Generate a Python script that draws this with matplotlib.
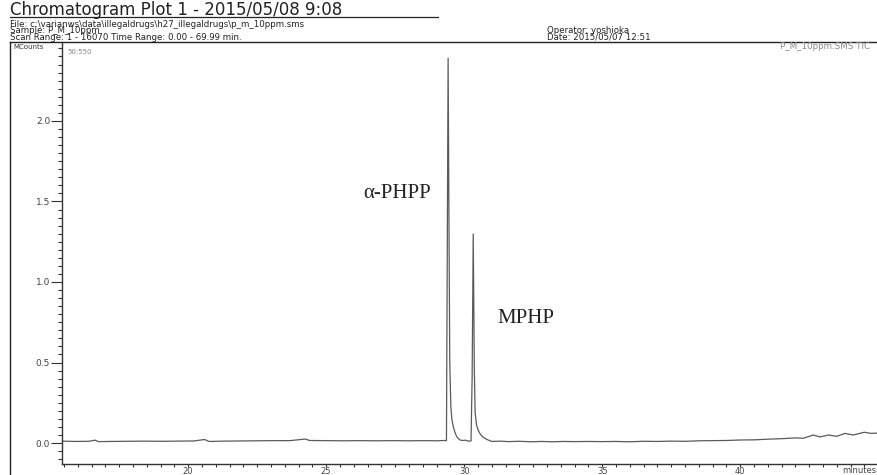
import numpy as np
import matplotlib
matplotlib.use("Agg")
import matplotlib.pyplot as plt
from matplotlib.lines import Line2D
from matplotlib.ticker import MultipleLocator, FormatStrFormatter

# TIC trace (minutes, MCounts)
time_min = [15.43, 15.9, 16.4, 16.63, 16.75, 17.2, 17.8, 18.4, 19.0, 19.6,
            20.2, 20.6, 20.75, 21.3, 21.9, 22.5, 23.1, 23.7, 24.24, 24.4,
            25.0, 25.6, 26.2, 26.8, 27.4, 28.0, 28.6, 29.0, 29.25, 29.36,
            29.39, 29.42, 29.45, 29.48, 29.52, 29.56, 29.61, 29.67, 29.73, 29.85,
            29.95, 30.05, 30.15, 30.25, 30.29, 30.33, 30.37, 30.40, 30.45, 30.51,
            30.57, 30.65, 30.75, 30.87, 31.0, 31.3, 31.6, 32.0, 32.4, 32.8,
            33.2, 33.6, 34.0, 34.5, 35.0, 35.5, 36.0, 36.5, 37.0, 37.5,
            38.0, 38.5, 39.0, 39.5, 40.0, 40.5, 41.0, 41.5, 42.0, 42.3,
            42.65, 42.9, 43.2, 43.5, 43.8, 44.1, 44.5, 44.75, 44.96]
mcounts = [0.012, 0.010, 0.011, 0.018, 0.009, 0.010, 0.011, 0.012, 0.011, 0.012,
           0.013, 0.022, 0.010, 0.012, 0.013, 0.014, 0.015, 0.015, 0.025, 0.016,
           0.015, 0.014, 0.015, 0.014, 0.015, 0.014, 0.015, 0.014, 0.016, 0.015,
           1.20, 2.389, 1.40, 0.50, 0.22, 0.143, 0.10, 0.065, 0.040, 0.019,
           0.016, 0.018, 0.012, 0.013, 0.40, 1.298, 0.45, 0.187, 0.112, 0.080,
           0.060, 0.042, 0.029, 0.019, 0.010, 0.012, 0.009, 0.011, 0.008, 0.010,
           0.008, 0.010, 0.009, 0.010, 0.009, 0.010, 0.008, 0.011, 0.010, 0.012,
           0.011, 0.014, 0.015, 0.016, 0.019, 0.020, 0.024, 0.027, 0.032, 0.030,
           0.050, 0.038, 0.050, 0.042, 0.060, 0.050, 0.067, 0.060, 0.062]

peak_names = ["α-PHPP", "MPHP"]
peak_label_pos = [(26.34, 1.547), (31.19, 0.774)]

header_title = "Chromatogram Plot 1 - 2015/05/08 9:08"
header_lines = ["File: c:\\varianws\\data\\illegaldrugs\\h27_illegaldrugs\\p_m_10ppm.sms",
                "Sample: P_M_10ppm",
                "Scan Range: 1 - 16070 Time Range: 0.00 - 69.99 min."]
header_right = ["Operator: yoshioka", "Date: 2015/05/07 12:51"]

W, H = 877, 475
fig = plt.figure(figsize=(W / 100, H / 100), dpi=100)
fig.patch.set_facecolor("white")

def fx(px):
    return px / W

def fy(py):
    return 1 - py / H

ax = fig.add_axes([fx(62), fy(464), fx(W - 62), fy(42) - fy(464)])
ax.plot(time_min, mcounts, color="#5a5a5a", lw=0.9)
ax.set_xlim(15.43, 44.96)
ax.set_ylim(-0.13, 2.49)

for s in ["top", "right"]:
    ax.spines[s].set_visible(False)
for s in ["left", "bottom"]:
    ax.spines[s].set_color("#333333")
    ax.spines[s].set_linewidth(1.0)

ax.xaxis.set_major_locator(MultipleLocator(5))
ax.xaxis.set_minor_locator(MultipleLocator(0.5))
ax.yaxis.set_major_locator(MultipleLocator(0.5))
ax.yaxis.set_minor_locator(MultipleLocator(0.05))
ax.yaxis.set_major_formatter(FormatStrFormatter("%.1f"))
ax.tick_params(axis="x", which="major", length=2.5, width=0.8, color="#333333",
               labelsize=6, labelcolor="#444444", pad=0)
ax.tick_params(axis="x", which="minor", length=2.5, width=0.8, color="#333333")
ax.tick_params(axis="y", which="major", length=8, width=0.8, color="#333333",
               labelsize=6.5, labelcolor="#444444", pad=0.5)
ax.tick_params(axis="y", which="minor", length=3, width=0.8, color="#333333")
ax.tick_params(axis="y", which="major", right=True)

for name, (tx, ty) in zip(peak_names, peak_label_pos):
    ax.text(tx, ty, name, family="Liberation Serif", fontsize=15, color="#222222",
            ha="left", va="center")

# report header
fig.text(fx(10), fy(15), header_title, fontsize=12, color="#222222",
         family="DejaVu Sans", ha="left", va="baseline")
fig.add_artist(Line2D([fx(10), fx(438)], [fy(17), fy(17)], color="#222222", lw=0.9))
fig.text(fx(10), fy(41.5), "\n".join(header_lines), fontsize=6.2, color="#222222",
         family="DejaVu Sans", ha="left", va="bottom", linespacing=0.64)
fig.text(fx(547), fy(41.5), "\n".join(header_right), fontsize=6.2, color="#222222",
         family="DejaVu Sans", ha="left", va="bottom", linespacing=0.64)
fig.add_artist(Line2D([fx(10), fx(W)], [fy(42), fy(42)], color="#222222", lw=1.0))
fig.add_artist(Line2D([fx(10), fx(10)], [fy(42), fy(H)], color="#222222", lw=1.0))

fig.text(fx(13), fy(49), "MCounts", fontsize=5, color="#333333", family="DejaVu Sans",
         ha="left", va="baseline")
fig.text(fx(67), fy(54), "50:550", fontsize=5, color="#888888", family="DejaVu Sans",
         ha="left", va="baseline")
fig.text(fx(870), fy(49), "P_M_10ppm.SMS TIC", fontsize=6.3, color="#888888",
         family="DejaVu Sans", ha="right", va="baseline")
fig.text(fx(876), fy(473), "minutes", fontsize=6, color="#444444", family="DejaVu Sans",
         ha="right", va="baseline")

fig.savefig("out.png", dpi=100)
